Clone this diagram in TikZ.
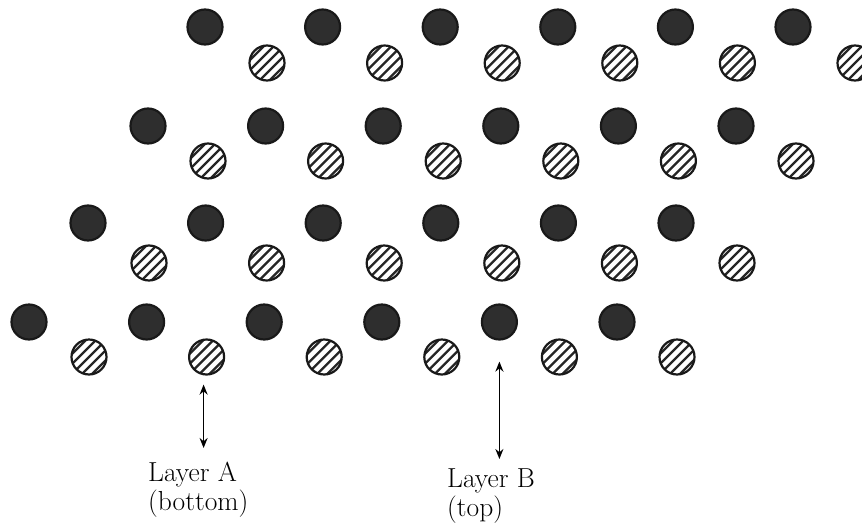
\documentclass[tikz,border=0pt]{standalone}
\usetikzlibrary{arrows.meta}
\begin{document}
\begin{tikzpicture}[x=1pt,y=-1pt,
  atom/.style={circle,minimum size=35pt,inner sep=0pt,line width=2.2pt,draw=black!90},
  topatom/.style={atom,fill=black!82},
  botatom/.style={atom,fill=white,path picture={
      \foreach \k in {-3,...,3}
        \draw[line width=2.3pt,black!85,shift={(path picture bounding box.center)}]
          (\k*10-22,22) -- (\k*10+22,-22);}},
  layerlabel/.style={align=left,inner sep=0pt,font=\fontsize{27.5}{28.5}\selectfont},
  dim/.style={<->,>={Stealth[length=10pt,width=8pt]},line width=1.6pt}]
\useasboundingbox (0,0) rectangle (862,525);
% layer B (top): dark atoms, rows 1..4
\foreach \r/\x/\y in {1/205/27,2/148/126,3/88/223,4/29/322}
  \foreach \c in {0,...,5}
    \node[topatom] (b\r\c) at (\x+\c*117.6,\y) {};
% layer A (bottom): hatched atoms, rows 1..4
\foreach \r/\x/\y in {1/267/63,2/208/161,3/149/263,4/89/357}
  \foreach \c in {0,...,5}
    \node[botatom] (a\r\c) at (\x+\c*117.6,\y) {};
% labels
\node[layerlabel,anchor=north west] (labA) at (148,462) {Layer A\\(bottom)};
\node[layerlabel,anchor=north west] (labB) at (447,469) {Layer B\\(top)};
% double arrows from the atoms down to the labels
\coordinate (pa1) at ([xshift=-3pt,yshift=-9pt]a41.south);
\coordinate (pa2) at ([yshift=14pt]pa1 |- labA.north);
\coordinate (pb1) at ([yshift=-21pt]b44.south);
\coordinate (pb2) at ([yshift=10pt]pb1 |- labB.north);
\draw[dim] (pa1) -- (pa2);
\draw[dim] (pb1) -- (pb2);
\end{tikzpicture}
\end{document}
